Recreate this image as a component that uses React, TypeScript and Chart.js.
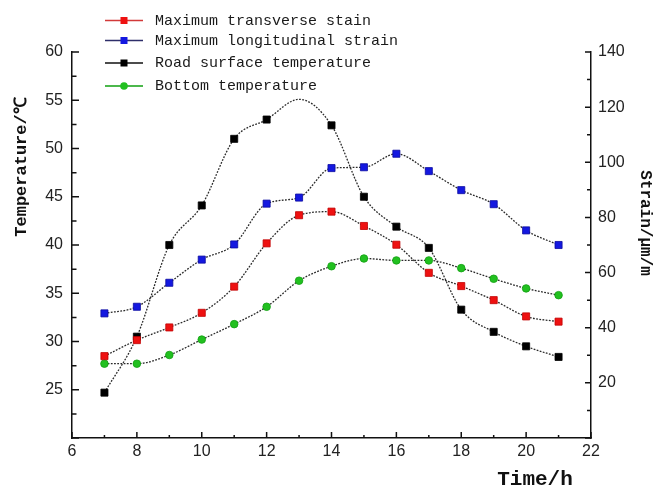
import React, { useEffect, useRef } from "react";
import { Chart, registerables } from "chart.js";

Chart.register(...registerables);

// ---- data ----
const hours = [7, 8, 9, 10, 11, 12, 13, 14, 15, 16, 17, 18, 19, 20, 21];
const transverseStrain = [29.7, 35.5, 40.1, 45.4, 54.9, 70.6, 80.8, 82.1, 76.9, 70.1, 59.9, 55.1, 50.0, 44.1, 42.2];
const longitudinalStrain = [45.2, 47.6, 56.3, 64.7, 70.2, 85.0, 87.2, 97.9, 98.2, 103.1, 96.8, 89.9, 84.8, 75.3, 70.0];
const roadTemperature = [24.7, 30.5, 40.0, 44.1, 51.0, 53.0, 55.1, 52.4, 45.0, 41.9, 39.7, 33.3, 31.0, 29.5, 28.4];
// the fitted curve passes the 13 h value without a marker
const roadMarkerShown = [true, true, true, true, true, true, false, true, true, true, true, true, true, true, true];
const bottomTemperature = [27.7, 27.7, 28.6, 30.2, 31.8, 33.6, 36.3, 37.8, 38.6, 38.4, 38.4, 37.6, 36.5, 35.5, 34.8];

const seriesNames = [
  "Maximum transverse stain",
  "Maximum longitudinal strain",
  "Road surface temperature",
  "Bottom temperature",
];

const timeRange = [6, 22];
const temperatureRange = [20, 60];
const strainRange = [0, 140];
const timeStep = 2;
const temperatureStep = 5;
const strainStep = 20;

const xTitle = "Time/h";
const leftTitle = "Temperature/℃";
const rightTitle = "Strain/μm/m";

const markerColors = ["#ee1111", "#1418e0", "#000000", "#22c020"];
const legendLineColors = ["#d23a3a", "#2e2e6a", "#111111", "#10a010"];

const toPoints = (ys: number[]) => hours.map((h, i) => ({ x: h, y: ys[i] }));

const tickFont = { family: '"Liberation Sans", Arial, sans-serif', size: 16 };

const decorPlugin = {
  id: "decor",
  afterDraw(chart: any) {
    const ctx = chart.ctx as CanvasRenderingContext2D;
    const { left, right, bottom } = chart.chartArea;
    const x = chart.scales.x;
    const yL = chart.scales.yTemp;
    const yR = chart.scales.yStrain;
    ctx.save();
    ctx.strokeStyle = "#111";
    ctx.lineWidth = 1.5;
    ctx.beginPath();
    for (let v = temperatureRange[0]; v <= temperatureRange[1]; v += temperatureStep / 2) {
      const py = yL.getPixelForValue(v);
      const len = v % temperatureStep === 0 ? 7 : 4.5;
      ctx.moveTo(left, py);
      ctx.lineTo(left + len, py);
    }
    for (let v = strainRange[0]; v <= strainRange[1]; v += strainStep / 2) {
      const py = yR.getPixelForValue(v);
      const len = v % strainStep === 0 ? 6 : 4;
      ctx.moveTo(right, py);
      ctx.lineTo(right - len, py);
    }
    for (let v = timeRange[0]; v <= timeRange[1]; v += timeStep / 2) {
      const px = x.getPixelForValue(v);
      const len = v % timeStep === 0 ? 6 : 3;
      ctx.moveTo(px, bottom);
      ctx.lineTo(px, bottom - len);
    }
    ctx.stroke();

    // legend
    const rows = [20.5, 40.5, 63, 86];
    chart.data.datasets.forEach((ds: any, i: number) => {
      const y = rows[i];
      ctx.strokeStyle = legendLineColors[i];
      ctx.lineWidth = 1.5;
      ctx.setLineDash([]);
      ctx.beginPath();
      ctx.moveTo(105, y);
      ctx.lineTo(143, y);
      ctx.stroke();
      ctx.fillStyle = markerColors[i];
      if (ds.pointStyle === "circle") {
        ctx.beginPath();
        ctx.arc(124, y, 3.8, 0, Math.PI * 2);
        ctx.fill();
      } else {
        ctx.fillRect(120.5, y - 3.5, 7, 7);
      }
      ctx.fillStyle = "#1a1a1a";
      ctx.font = '15px "Liberation Mono", monospace';
      ctx.textAlign = "left";
      ctx.textBaseline = "middle";
      ctx.fillText(ds.label, 155, y + 0.5);
    });

    // axis titles
    ctx.fillStyle = "#111";
    ctx.textAlign = "center";
    ctx.textBaseline = "middle";
    ctx.font = 'bold 21px "Liberation Mono", monospace';
    ctx.fillText(xTitle, 535, 480);

    ctx.font = 'bold 17px "Liberation Mono", monospace';
    ctx.save();
    ctx.translate(22, 167);
    ctx.rotate(-Math.PI / 2);
    ctx.fillText(leftTitle, 0, 0);
    ctx.restore();

    ctx.font = 'bold 16px "Liberation Mono", monospace';
    ctx.save();
    ctx.translate(645, 223);
    ctx.rotate(Math.PI / 2);
    ctx.fillText(rightTitle, 0, 0);
    ctx.restore();

    ctx.restore();
  },
};

export default function App() {
  const ref = useRef<HTMLCanvasElement | null>(null);

  useEffect(() => {
    if (!ref.current) return;
    const lineStyle = {
      borderColor: "#2a2a2a",
      borderWidth: 1.3,
      borderDash: [1.8, 1.4],
      cubicInterpolationMode: "monotone",
      fill: false,
      showLine: true,
    };
    const chart = new Chart(ref.current, {
      type: "line",
      data: {
        datasets: [
          {
            ...lineStyle,
            label: seriesNames[0],
            data: toPoints(transverseStrain),
            yAxisID: "yStrain",
            pointStyle: "rect",
            pointRadius: 5,
            pointBackgroundColor: markerColors[0],
            pointBorderColor: "#c00000",
            pointBorderWidth: 0.8,
          },
          {
            ...lineStyle,
            label: seriesNames[1],
            data: toPoints(longitudinalStrain),
            yAxisID: "yStrain",
            pointStyle: "rect",
            pointRadius: 5,
            pointBackgroundColor: markerColors[1],
            pointBorderColor: "#0a0aa0",
            pointBorderWidth: 0.8,
          },
          {
            ...lineStyle,
            label: seriesNames[2],
            data: toPoints(roadTemperature),
            yAxisID: "yTemp",
            pointStyle: "rect",
            pointRadius: roadMarkerShown.map((s) => (s ? 5 : 0)),
            pointBackgroundColor: markerColors[2],
            pointBorderColor: "#000",
            pointBorderWidth: 0.8,
          },
          {
            ...lineStyle,
            label: seriesNames[3],
            data: toPoints(bottomTemperature),
            yAxisID: "yTemp",
            pointStyle: "circle",
            pointRadius: 3.8,
            pointBackgroundColor: markerColors[3],
            pointBorderColor: "#10a010",
            pointBorderWidth: 0.8,
          },
        ],
      },
      options: {
        animation: false,
        responsive: false,
        devicePixelRatio: 1,
        layout: { padding: { top: 52, left: 0, right: 0, bottom: 0 } },
        plugins: { legend: { display: false }, tooltip: { enabled: false } },
        elements: { point: { hoverRadius: 5 } },
        scales: {
          x: {
            type: "linear",
            position: "bottom",
            min: timeRange[0],
            max: timeRange[1],
            ticks: { stepSize: timeStep, padding: 4, font: tickFont, color: "#222", maxRotation: 0, autoSkip: false },
            grid: { display: false, drawTicks: false },
            border: { display: true, color: "#111", width: 1.5 },
            afterFit: (s: any) => {
              s.height = 53;
            },
          },
          yTemp: {
            type: "linear",
            position: "left",
            min: temperatureRange[0],
            max: temperatureRange[1],
            ticks: {
              stepSize: temperatureStep,
              padding: 9,
              font: tickFont,
              color: "#222",
              callback: (v: any) => (v === temperatureRange[0] ? "" : String(v)),
            },
            grid: { display: false, drawTicks: false },
            border: { display: true, color: "#111", width: 1.5 },
            afterFit: (s: any) => {
              s.width = 72;
            },
          },
          yStrain: {
            type: "linear",
            position: "right",
            min: strainRange[0],
            max: strainRange[1],
            ticks: {
              stepSize: strainStep,
              padding: 7,
              font: tickFont,
              color: "#222",
              callback: (v: any) => (v === strainRange[0] ? "" : String(v)),
            },
            grid: { display: false, drawTicks: false },
            border: { display: true, color: "#111", width: 1.5 },
            afterFit: (s: any) => {
              s.width = 63;
            },
          },
        },
      },
      plugins: [decorPlugin],
    } as any);
    return () => chart.destroy();
  }, []);

  return (
    <div style={{ position: "absolute", left: 0, top: 0, width: 654, height: 491, background: "#fff" }}>
      <canvas ref={ref} width={654} height={491} style={{ display: "block" }} />
    </div>
  );
}
